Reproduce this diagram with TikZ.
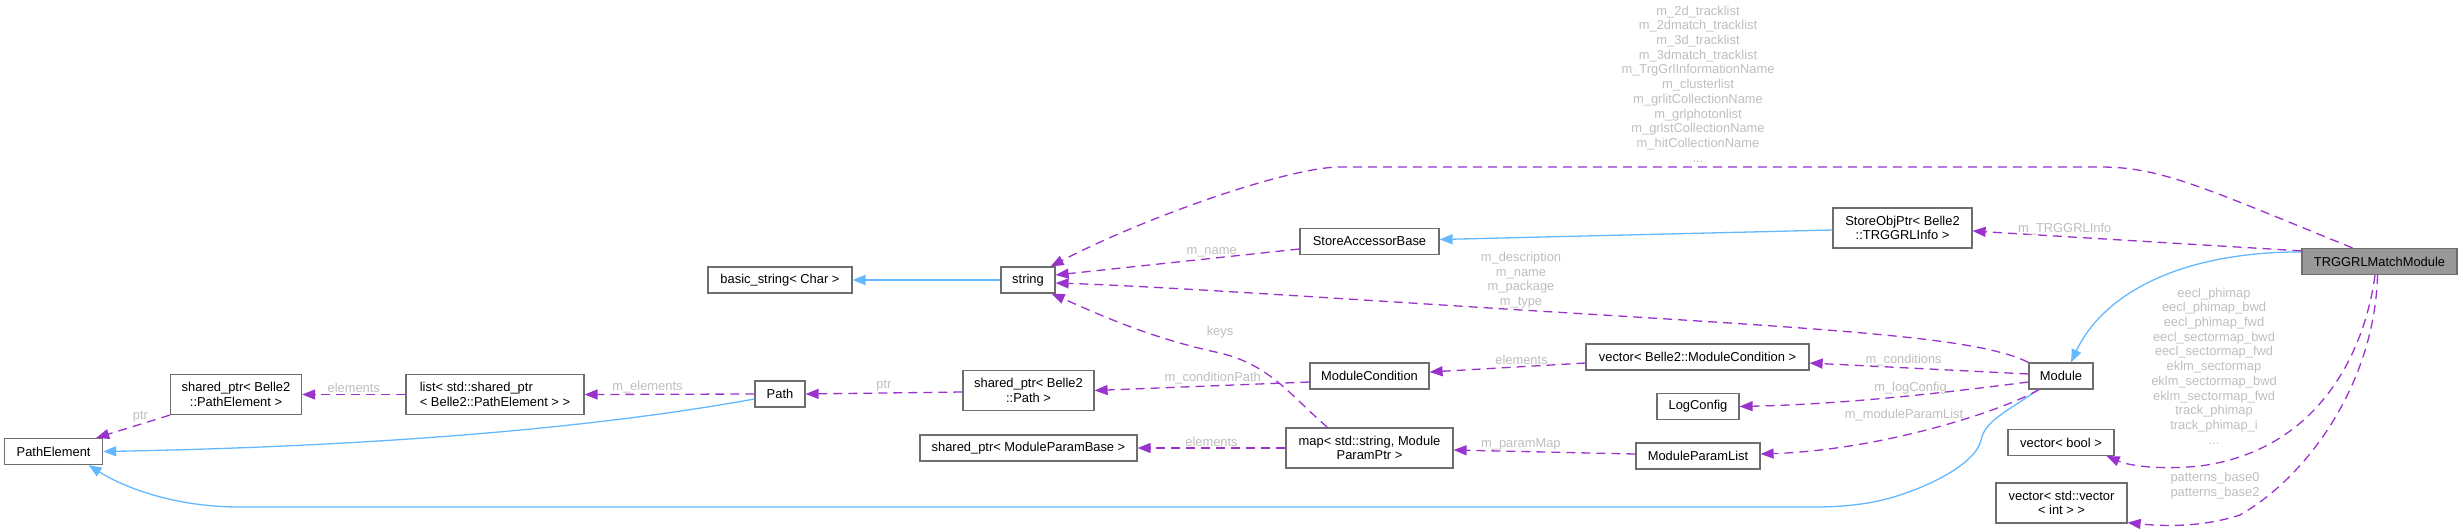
\documentclass[tikz,border=0pt]{standalone}
\usepackage{fontspec}
\setmainfont{Liberation Sans}
\usetikzlibrary{arrows.meta,calc}

\definecolor{edgepurple}{RGB}{154,50,205}
\definecolor{edgeblue}{RGB}{99,184,255}
\definecolor{labelgrey}{RGB}{190,190,190}
\definecolor{boxgrey}{RGB}{110,110,110}
\definecolor{fillgrey}{RGB}{153,153,153}

\begin{document}
\begin{tikzpicture}[x=1pt,y=-1pt,
    cls/.style={draw=boxgrey, line width=1.2pt, minimum height=26pt, inner sep=0pt, align=center, font=\fontsize{12.9}{14.3}\selectfont},
    cls2/.style={cls, minimum height=40pt},
    member/.style={color=edgepurple, line width=1.3pt, dash pattern=on 9pt off 6pt, -{Triangle[length=13pt,width=10pt]}},
    inherit/.style={color=edgeblue, line width=1.3pt, -{Triangle[length=13pt,width=10pt]}},
    lbl/.style={text=labelgrey, inner sep=1pt, align=center, font=\fontsize{12.9}{14.7}\selectfont}]
    \useasboundingbox (0,0) rectangle (2463,531);

    \node (pathelement) at (53.6,451.5) [cls, minimum width=98pt] {PathElement};
    \node (sppathelem) at (236,394.5) [cls2, minimum width=131pt] {shared\_ptr< Belle2\\::PathElement >};
    \node (elemlist) at (495,394.5) [cls2, minimum width=178pt, align=left] {list< std::shared\_ptr\\< Belle2::PathElement > >};
    \node (path) at (780,394) [cls, minimum width=50pt] {Path};
    \node (sppath) at (1028.5,390.5) [cls2, minimum width=131pt] {shared\_ptr< Belle2\\::Path >};
    \node (spparam) at (1028.5,448) [cls, minimum width=217pt] {shared\_ptr< ModuleParamBase >};
    \node (basicstr) at (780,280) [cls, minimum width=144pt] {basic\_string< Char >};
    \node (string) at (1028,280) [cls, minimum width=54pt] {string};
    \node (accessor) at (1369.5,241.5) [cls, minimum width=139pt] {StoreAccessorBase};
    \node (condition) at (1369.5,376) [cls, minimum width=119pt] {ModuleCondition};
    \node (parammap) at (1369.5,448) [cls2, minimum width=167pt] {map< std::string, Module\\ParamPtr >};
    \node (condvec) at (1697.5,357) [cls, minimum width=223pt] {vector< Belle2::ModuleCondition >};
    \node (logconfig) at (1698,406.5) [cls, minimum width=82pt] {LogConfig};
    \node (paramlist) at (1698,456) [cls, minimum width=124pt] {ModuleParamList};
    \node (objptr) at (1902.5,228) [cls2, minimum width=139pt] {StoreObjPtr< Belle2\\::TRGGRLInfo >};
    \node (module) at (2061,376) [cls, minimum width=64pt] {Module};
    \node (boolvec) at (2061,442.5) [cls, minimum width=106pt] {vector< bool >};
    \node (intvec) at (2061.5,503) [cls2, minimum width=131pt] {vector< std::vector\\< int > >};
    \node (matchmod) at (2379.5,261.5) [cls, fill=fillgrey, minimum width=155pt] {TRGGRLMatchModule};

    \draw[inherit] (string) -- (basicstr);
    \draw[inherit] ([yshift=-2pt]objptr.west) -- ([yshift=2pt]accessor.east);
    \draw[inherit] ([yshift=-4pt]matchmod.north west) .. controls (2170,252) and (2100,300) .. ([xshift=10pt]module.north);
    \draw[inherit] ([xshift=-23pt]module.south) .. controls (2010,410) and (1985,420) .. (1981,440) .. controls (1977,460) and (1940,482) .. (1900,495) .. controls (1870,505) and (1840,507) .. (1813,507) -- (240,507) .. controls (170,507) and (120,485) .. ([xshift=35pt]pathelement.south);
    \draw[inherit] ([yshift=-5pt]path.west) .. controls (650,418) and (450,445) .. (pathelement.east);

    \draw[member] ([xshift=-27pt]matchmod.north) .. controls (2200,186) and (2160,167) .. (2100,167) -- (1340,167) .. controls (1290,167) and (1150,215) .. ([xshift=-5pt]string.north east);
    \node (tracklbl) at (1698,84) [lbl] {m\_2d\_tracklist\\m\_2dmatch\_tracklist\\m\_3d\_tracklist\\m\_3dmatch\_tracklist\\m\_TrgGrlInformationName\\m\_clusterlist\\m\_grlitCollectionName\\m\_grlphotonlist\\m\_grlstCollectionName\\m\_hitCollectionName\\...};
    \draw[member] ([yshift=-3pt]matchmod.north west) -- node[lbl, above, pos=0.72] (infolbl) {m\_TRGGRLInfo} ([yshift=-3pt]objptr.east);
    \draw[member] ([yshift=-7.5pt]accessor.west) -- node[lbl, above, pos=0.36] (namelbl) {m\_name} ([yshift=5pt]string.east);
    \draw[member] (module.north west) .. controls (1980,338) and (1850,330) .. (1521,310) node[lbl, above] (desclbl) {m\_description\\m\_name\\m\_package\\m\_type} .. controls (1300,296) and (1150,286) .. ([yshift=-3pt]string.east);
    \draw[member] ([xshift=-42pt]parammap.north) .. controls (1290,395) and (1270,365) .. (1220,353) node[lbl, above=13pt] (keyslbl) {keys} .. controls (1150,338) and (1100,315) .. ([xshift=-4pt]string.south east);
    \draw[member] ([yshift=-6pt]condition.west) -- node[lbl, above, pos=0.45] (cplbl) {m\_conditionPath} (sppath.east);
    \draw[member] ([yshift=-1.5pt]sppath.west) -- node[lbl, above] (ptrlbl) {ptr} (path.east);
    \draw[member] (path.west) -- node[lbl, above, pos=0.63] (elemlbl) {m\_elements} (elemlist.east);
    \draw[member] (elemlist.west) -- node[lbl, above] (elemlistlbl) {elements} (sppathelem.east);
    \draw[member] (sppathelem.south west) -- node[lbl, above, pos=0.4] (ptrpelbl) {ptr} ([xshift=-7pt]pathelement.north east);
    \draw[member] ([yshift=-6pt]condvec.west) -- node[lbl, above, pos=0.41] (condelemlbl) {elements} ([yshift=4pt]condition.east);
    \draw[member] ([yshift=2pt]module.west) -- node[lbl, above, pos=0.57] (condlbl) {m\_conditions} ([yshift=-6pt]condvec.east);
    \draw[member] ([yshift=-6pt]module.west) .. controls (1950,392) and (1850,404) .. node[lbl, above, pos=0.45] (loglbl) {m\_logConfig} (logconfig.east);
    \draw[member] ([xshift=-22pt]module.south) .. controls (2000,412) and (1880,450) .. ([yshift=2pt]paramlist.east);
    \node (plistlbl) at (1904,415) [lbl] {m\_moduleParamList};
    \draw[member] ([yshift=2pt]paramlist.west) -- node[lbl, above, pos=0.63] (pmaplbl) {m\_paramMap} ([yshift=-2pt]parammap.east);
    \draw[member] (parammap.west) -- node[lbl, above] (mapelemlbl) {elements} (spparam.east);
    \draw[member] ([xshift=-4.5pt]matchmod.south) .. controls (2365,350) and (2320,450) .. (2200,466) .. controls (2160,470) and (2130,466) .. ([xshift=-8pt]boolvec.south east);
    \node (maplbl) at (2214,366) [lbl] {eecl\_phimap\\eecl\_phimap\_bwd\\eecl\_phimap\_fwd\\eecl\_sectormap\_bwd\\eecl\_sectormap\_fwd\\eklm\_sectormap\\eklm\_sectormap\_bwd\\eklm\_sectormap\_fwd\\track\_phimap\\track\_phimap\_i\\...};
    \draw[member] ([xshift=-2pt]matchmod.south) .. controls (2375,380) and (2310,475) .. (2240,515) .. controls (2200,528) and (2160,526) .. ([yshift=1pt]intvec.south east);
    \node (patlbl) at (2215,486) [lbl] {patterns\_base0\\patterns\_base2};
\end{tikzpicture}
\end{document}
